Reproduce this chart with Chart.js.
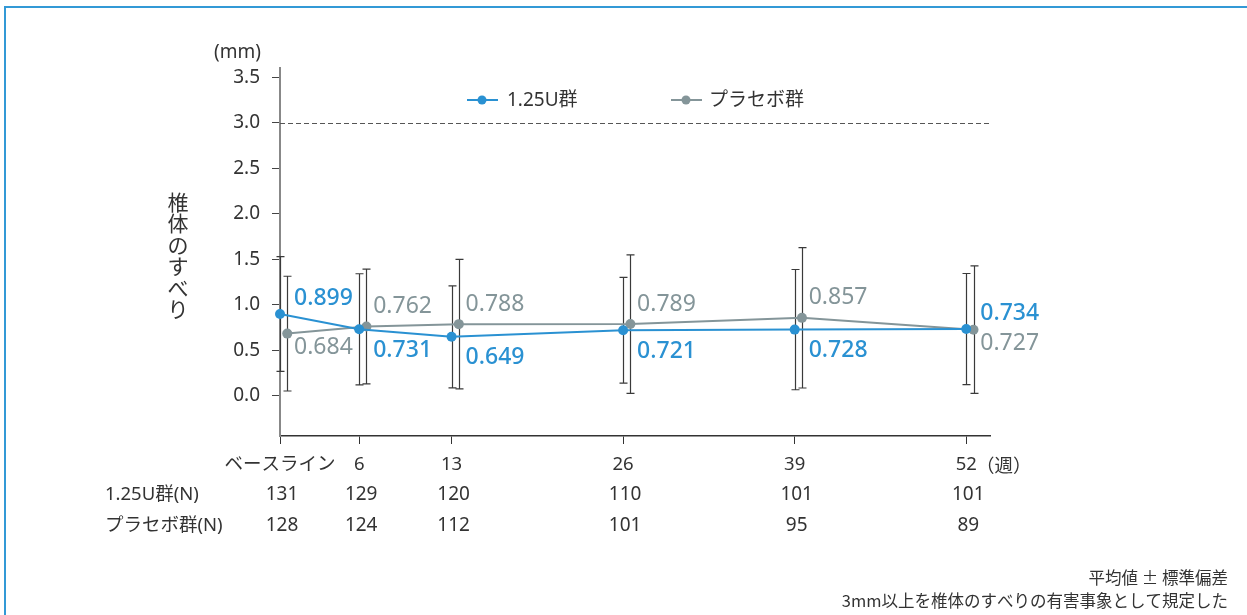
<!DOCTYPE html>
<html lang="ja">
<head>
<meta charset="utf-8">
<script src="https://cdn.jsdelivr.net/npm/chart.js@4.4.1/dist/chart.umd.min.js"></script>
<style>
  html, body { margin: 0; padding: 0; background: #fff; }
  #wrap { position: relative; width: 1247px; height: 615px; overflow: hidden; }
  #frame { position: absolute; left: 4px; top: 6px; width: 1300px; height: 700px;
           border-top: 2px solid #3399d6; border-left: 2px solid #3399d6; }
  canvas { position: absolute; left: 0; top: 0; }
</style>
</head>
<body>
<div id="wrap">
  <div id="frame"></div>
  <canvas id="slipChart" width="1247" height="615"></canvas>
</div>
<script>
// data
const weeks = [0, 6, 13, 26, 39, 52];
const weekLabels = ['ベースライン', '6', '13', '26', '39', '52'];
const mean125 = [0.899, 0.731, 0.649, 0.721, 0.728, 0.734];
const sd125 = [0.63, 0.61, 0.56, 0.58, 0.66, 0.61];
const meanPlacebo = [0.684, 0.762, 0.788, 0.789, 0.857, 0.727];
const sdPlacebo = [0.63, 0.63, 0.71, 0.76, 0.77, 0.70];
const n125 = [131, 129, 120, 110, 101, 101];
const nPlacebo = [128, 124, 112, 101, 95, 89];
const yTicks = [0, 0.5, 1.0, 1.5, 2.0, 2.5, 3.0, 3.5];
const threshold = 3.0;

const BLUE = '#2a91d2';
const GRAY = '#849599';
const TEXT = '#333333';
const FONT = "'Noto Sans', 'Noto Sans CJK JP', sans-serif";
const CJK = "'Noto Sans CJK JP', 'Noto Sans', sans-serif";
const placeboShift = 0.55; // small horizontal dodge so the two series don't overlap

const extras = {
    id: 'extras',
    beforeDatasetsDraw(chart) {
        const { ctx, chartArea, scales: { y } } = chart;
        ctx.save();
        // 3mm reference line
        const ty = Math.round(y.getPixelForValue(threshold)) + 0.5;
        ctx.strokeStyle = '#555';
        ctx.lineWidth = 1;
        ctx.setLineDash([5, 3]);
        ctx.beginPath();
        ctx.moveTo(chartArea.left, ty);
        ctx.lineTo(chartArea.right, ty);
        ctx.stroke();
        ctx.setLineDash([]);

        // error bars (mean ± SD)
        ctx.strokeStyle = '#3a3a3a';
        ctx.lineWidth = 1.2;
        chart.data.datasets.forEach((ds, i) => {
            chart.getDatasetMeta(i).data.forEach((pt, j) => {
                const m = ds.data[j].y, s = ds.sd[j];
                const px = Math.round(pt.x) + 0.5;
                const top = y.getPixelForValue(m + s);
                const bot = y.getPixelForValue(m - s);
                ctx.beginPath();
                ctx.moveTo(px, top); ctx.lineTo(px, bot);
                ctx.moveTo(px - 4, top); ctx.lineTo(px + 4, top);
                ctx.moveTo(px - 4, bot); ctx.lineTo(px + 4, bot);
                ctx.stroke();
            });
        });
        ctx.restore();
    },
    afterDatasetsDraw(chart) {
        const { ctx, scales: { x } } = chart;
        ctx.save();
        ctx.textBaseline = 'middle';
        ctx.textAlign = 'left';
        const blueMeta = chart.getDatasetMeta(0);
        const grayMeta = chart.getDatasetMeta(1);
        weeks.forEach((w, j) => {
            const lx = x.getPixelForValue(w) + 14;
            const blueUp = mean125[j] > meanPlacebo[j];
            ctx.font = '500 23px ' + FONT;
            ctx.fillStyle = BLUE;
            ctx.fillText(mean125[j].toFixed(3), lx, blueMeta.data[j].y + (blueUp ? -16 : 21));
            ctx.font = '400 23px ' + FONT;
            ctx.fillStyle = GRAY;
            ctx.fillText(meanPlacebo[j].toFixed(3), lx, grayMeta.data[j].y + (blueUp ? 14 : -20));
        });
        ctx.restore();
    },
    afterDraw(chart) {
        const { ctx, scales: { x } } = chart;
        ctx.save();
        ctx.fillStyle = TEXT;
        ctx.textBaseline = 'middle';

        // legend
        const items = [
            { label: chart.data.datasets[0].label, color: BLUE, x0: 467, tx: 507 },
            { label: chart.data.datasets[1].label, color: GRAY, x0: 671, tx: 709 }
        ];
        items.forEach(it => {
            ctx.strokeStyle = it.color;
            ctx.fillStyle = it.color;
            ctx.lineWidth = 2;
            ctx.beginPath();
            ctx.moveTo(it.x0, 100); ctx.lineTo(it.x0 + 31, 100);
            ctx.stroke();
            ctx.beginPath();
            ctx.arc(it.x0 + 15, 100, 4.5, 0, Math.PI * 2);
            ctx.fill();
            ctx.fillStyle = TEXT;
            ctx.font = '19px ' + FONT;
            ctx.textAlign = 'left';
            ctx.fillText(it.label, it.tx, 101);
        });

        // unit + vertical axis title
        ctx.font = '19px ' + FONT;
        ctx.textAlign = 'right';
        ctx.fillText('(mm)', 261, 53);
        ctx.font = '21px ' + CJK;
        ctx.textAlign = 'center';
        Array.from('椎体のすべり').forEach((ch, i) => {
            ctx.fillText(ch, 178, 202 + i * 21.5);
        });

        // week unit
        ctx.font = '18.5px ' + CJK;
        ctx.textAlign = 'left';
        ctx.fillText('（週）', 976, 465);

        // number of patients
        ctx.font = '18.5px ' + FONT;
        ctx.textAlign = 'left';
        ctx.fillText('1.25U群(N)', 105, 495);
        ctx.fillText('プラセボ群(N)', 105, 526);
        ctx.font = '19px ' + FONT;
        ctx.textAlign = 'center';
        weeks.forEach((w, j) => {
            const cx = x.getPixelForValue(w) + 2;
            ctx.fillText(String(n125[j]), cx, 495);
            ctx.fillText(String(nPlacebo[j]), cx, 526);
        });

        // footnotes
        ctx.font = '16.5px ' + CJK;
        ctx.textAlign = 'right';
        ctx.fillText('平均値 ± 標準偏差', 1228, 578);
        ctx.fillText('3mm以上を椎体のすべりの有害事象として規定した', 1228, 601);
        ctx.restore();
    }
};

const ctx = document.getElementById('slipChart').getContext('2d');
new Chart(ctx, {
    type: 'line',
    data: {
        datasets: [
            {
                label: '1.25U群',
                data: weeks.map((w, i) => ({ x: w, y: mean125[i] })),
                sd: sd125,
                borderColor: BLUE,
                backgroundColor: BLUE,
                borderWidth: 2,
                pointRadius: 5,
                pointBorderWidth: 0,
                clip: false
            },
            {
                label: 'プラセボ群',
                data: weeks.map((w, i) => ({ x: w + placeboShift, y: meanPlacebo[i] })),
                sd: sdPlacebo,
                borderColor: GRAY,
                backgroundColor: GRAY,
                borderWidth: 2,
                pointRadius: 5,
                pointBorderWidth: 0,
                clip: false
            }
        ]
    },
    options: {
        responsive: false,
        animation: false,
        layout: { padding: { top: 68, right: 257, left: 0, bottom: 0 } },
        plugins: { legend: { display: false }, tooltip: { enabled: false } },
        scales: {
            x: {
                type: 'linear',
                min: 0,
                max: 53.8,
                afterBuildTicks: (scale) => { scale.ticks = weeks.map(v => ({ value: v })); },
                afterFit: (scale) => { scale.height = 179; },
                ticks: {
                    autoSkip: false,
                    maxRotation: 0,
                    padding: 10,
                    color: TEXT,
                    font: { family: FONT, size: 18.5 },
                    callback: (v, i) => weekLabels[i]
                },
                grid: { drawOnChartArea: false, drawTicks: true, tickLength: 8, color: '#333' },
                border: { display: true, color: '#333', width: 1.5 }
            },
            y: {
                min: -0.44,
                max: 3.6,
                afterBuildTicks: (scale) => { scale.ticks = yTicks.map(v => ({ value: v })); },
                afterFit: (scale) => { scale.width = 280; },
                ticks: {
                    padding: 12,
                    color: TEXT,
                    font: { family: FONT, size: 19 },
                    callback: (v) => v.toFixed(1)
                },
                grid: { drawOnChartArea: false, drawTicks: true, tickLength: 8, color: '#444' },
                border: { display: true, color: '#888', width: 2 }
            }
        }
    },
    plugins: [extras]
});
</script>
</body>
</html>
